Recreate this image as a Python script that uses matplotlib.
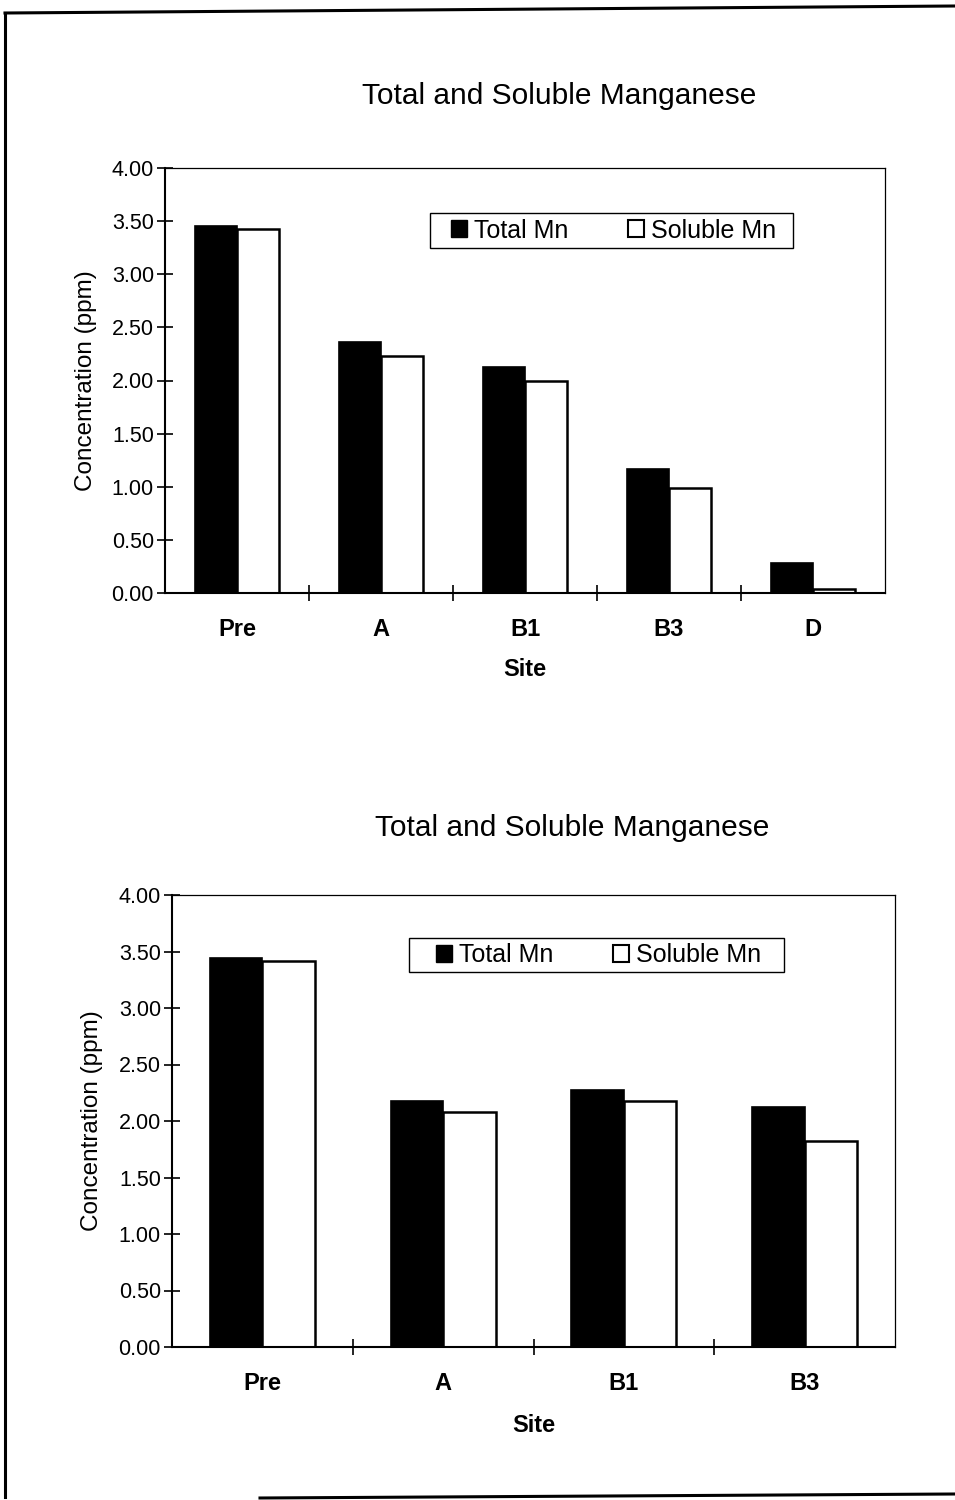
import matplotlib
matplotlib.use("Agg")
import matplotlib.pyplot as plt
from matplotlib.lines import Line2D
from matplotlib.patches import Patch, Rectangle

plt.rcParams['font.family'] = ['Liberation Sans', 'DejaVu Sans']

title = "Total and Soluble Manganese"
ylabel = "Concentration (ppm)"
xlabel = "Site"
series_names = ["Total Mn", "Soluble Mn"]
yticks = [0.0, 0.5, 1.0, 1.5, 2.0, 2.5, 3.0, 3.5, 4.0]

sites_top = ["Pre", "A", "B1", "B3", "D"]
total_top = [3.45, 2.36, 2.13, 1.17, 0.28]
soluble_top = [3.43, 2.23, 2.00, 0.99, 0.04]

sites_bot = ["Pre", "A", "B1", "B3"]
total_bot = [3.44, 2.18, 2.27, 2.12]
soluble_bot = [3.42, 2.08, 2.18, 1.82]

W, H = 955, 1500
fig = plt.figure(figsize=(W / 100, H / 100), dpi=100)
fig.patch.set_facecolor("white")


def px_axes(l, t, r, b):
    return fig.add_axes([l / W, 1 - b / H, (r - l) / W, (b - t) / H])


def draw_chart(ax, sites, total, soluble, title_xy, legend_box, ylab_x, site_y, tick_pad):
    n = len(sites)
    bw = 0.29
    xs = list(range(n))
    ax.bar([x - bw / 2 for x in xs], total, width=bw, color="black",
           edgecolor="black", linewidth=1.2, label=series_names[0])
    ax.bar([x + bw / 2 for x in xs], soluble, width=bw, color="white",
           edgecolor="black", linewidth=1.8, label=series_names[1])
    ax.set_xlim(-0.5, n - 0.5)
    ax.set_ylim(0, 4.0)
    ax.set_yticks(yticks)
    ax.set_yticklabels([f"{v:.2f}" for v in yticks], fontsize=15.5)
    ax.set_xticks(xs)
    ax.set_xticklabels(sites, fontsize=17, fontweight="bold")
    ax.set_xticks([x + 0.5 for x in xs[:-1]], minor=True)
    ax.tick_params(axis="x", which="major", length=0, pad=tick_pad)
    ax.tick_params(axis="x", which="minor", length=12, direction="inout", width=1.2)
    ax.tick_params(axis="y", which="major", length=12, direction="inout", width=1.2, pad=2)
    for s in ["left", "bottom"]:
        ax.spines[s].set_linewidth(1.5)
    for s in ["top", "right"]:
        ax.spines[s].set_linewidth(0.9)
    fig.text(title_xy[0] / W, 1 - title_xy[1] / H, title, fontsize=21.5,
             ha="center", va="center")
    pos = ax.get_position()
    fig.text(ylab_x / W, pos.y0 + pos.height / 2, ylabel, rotation=90,
             fontsize=17.5, ha="center", va="center")
    fig.text((pos.x0 + pos.width / 2), 1 - site_y / H, xlabel, fontsize=17,
             fontweight="bold", ha="center", va="center")
    handles = [Patch(facecolor="black", edgecolor="black", linewidth=1.0),
               Patch(facecolor="white", edgecolor="black", linewidth=1.5)]
    l, t, r, b = legend_box
    fig.legend(handles, series_names, ncol=2, fontsize=18,
               loc="center", bbox_to_anchor=((l + r) / 2 / W + 0.002, 1 - (t + b) / 2 / H),
               frameon=False, handlelength=0.65, handleheight=0.65, handletextpad=0.25,
               columnspacing=2.4, borderpad=0.2, borderaxespad=0)
    fig.add_artist(Rectangle((l / W, 1 - b / H), (r - l) / W, (b - t) / H,
                             transform=fig.transFigure, facecolor="none",
                             edgecolor="black", linewidth=1.0, zorder=5))


ax1 = px_axes(165, 168, 885, 593)
draw_chart(ax1, sites_top, total_top, soluble_top, (559, 96),
           (430, 213, 793, 248), 86, 670, 18)

ax2 = px_axes(172, 895, 895, 1347)
draw_chart(ax2, sites_bot, total_bot, soluble_bot, (572, 828),
           (409, 938, 784, 972), 92, 1425, 18)

# page frame
fig.add_artist(Line2D([5 / W, 5 / W], [1 - 13 / H, 1 - 1497 / H], color="black", lw=2.2,
                      transform=fig.transFigure))
fig.add_artist(Line2D([5 / W, 1.0], [1 - 13 / H, 1 - 6 / H], color="black", lw=2.2,
                      transform=fig.transFigure))
fig.add_artist(Line2D([260 / W, 1.0], [1 - 1498 / H, 1 - 1494 / H], color="black", lw=2.2,
                      transform=fig.transFigure))

fig.savefig("out.png", dpi=100, facecolor="white")
